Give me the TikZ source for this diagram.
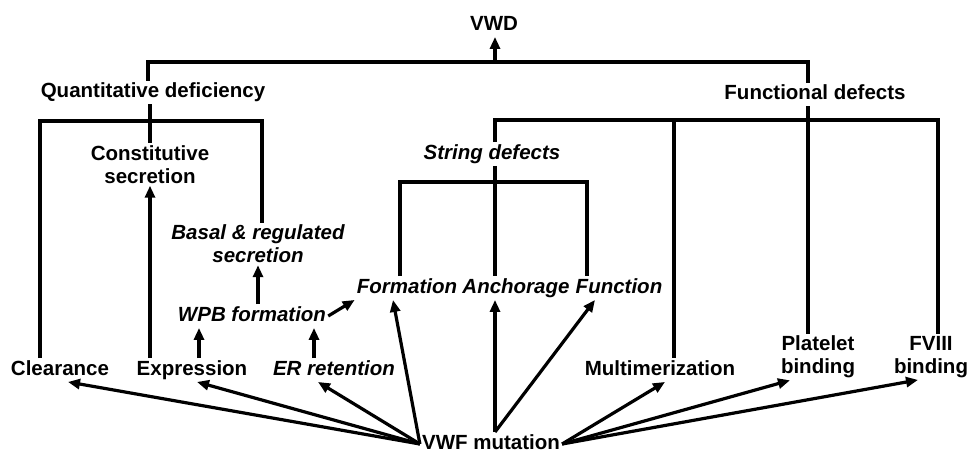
\documentclass[tikz,border=0pt]{standalone}
\usepackage{fontspec}
\setmainfont{Liberation Sans}
\usepackage{tikz}
\usetikzlibrary{arrows.meta}

\begin{document}
\begin{tikzpicture}[
  x=1pt, y=-1pt,
  font=\fontsize{20.5}{23}\selectfont\bfseries,
  lbl/.style={align=center, inner sep=2pt},
  one/.style={lbl, text height=15pt, text depth=4.5pt},
  itl/.style={font=\fontsize{20.5}{23}\selectfont\bfseries\itshape},
  ln/.style={line width=3.2pt},
  ar/.style={ln, -{Triangle[length=12pt, width=10pt]}}
]
\useasboundingbox (0,0) rectangle (970,452);

\node[one] (vwd) at (494,25) {VWD};
\node[one] (quant) at (153,92.5) {Quantitative deficiency};
\node[one] (func) at (815,94.5) {Functional defects};
\node[lbl] (const) at (150,164.5) {Constitutive\\secretion};
\node[lbl, itl] (basal) at (258,244) {Basal \& regulated\\secretion};
\node[one, itl] (wpb) at (252,316) {WPB formation};
\node[one] (clear) at (60,370) {Clearance};
\node[one] (expr) at (192,370) {Expression};
\node[one, itl] (er) at (334,370) {ER retention};
\node[one, itl] (formation) at (407,288) {Formation};
\node[one, itl] (anch) at (516,288) {Anchorage};
\node[one, itl] (fun) at (619,288) {Function};
\node[one, itl] (string) at (492,154) {String defects};
\node[one] (multi) at (660,370) {Multimerization};
\node[lbl] (plate) at (818,357) {Platelet\\binding};
\node[lbl] (fviii) at (931,357) {FVIII\\binding};
\node[one] (mut) at (491,444) {VWF mutation};

\coordinate (top) at (495,62);
\coordinate (qbar) at (150,121);
\coordinate (fbar) at (495,120);
\coordinate (sbar) at (495,182);

% VWD
\draw[ln] ([xshift=-5pt]quant.north) |- (top) -| ([xshift=-7pt]func.north);
\draw[ar] (top) -- (vwd.south -| top);

% quantitative deficiency
\draw[ln] (quant.south -| qbar) -- (const.north);
\draw[ln] ([xshift=-20pt]clear.north) |- (qbar) -| ([xshift=4pt]basal.north);
\draw[ar] (expr.north -| const) -- (const.south);
\draw[ar] ([xshift=7pt]expr.north) -- ([xshift=7pt]expr.north |- wpb.south);
\draw[ar] ([xshift=-20pt]er.north) -- ([xshift=-20pt]er.north |- wpb.south);
\draw[ar] (wpb.north -| basal) -- (basal.south);
\draw[ar] (wpb.east) -- (formation.south west);

% functional defects
\draw[ln] (string.north -| fbar) -- (fbar) -| ([xshift=7pt]fviii.north);
\draw[ln] ([xshift=14pt]multi.north |- fbar) -- ([xshift=14pt]multi.north);
\draw[ln] ([xshift=-7pt]func.south) -- ([xshift=-7pt]func.south |- plate.north);
\draw[ln] ([xshift=-7pt]formation.north) |- (sbar) -| ([xshift=-32pt]fun.north);
\draw[ln] (string.south -| sbar) -- (anch.north -| sbar);

% VWF mutation
\draw[ar] (mut.west) -- ([xshift=8pt]clear.south);
\draw[ar] (mut.west) -- ([xshift=5pt]expr.south);
\draw[ar] (mut.west) -- ([xshift=-16pt]er.south);
\draw[ar] (mut.west) -- ([xshift=-14pt]formation.south);
\draw[ar] (mut.north -| sbar) -- (anch.south -| sbar);
\draw[ar] (mut.north -| sbar) -- ([xshift=-24pt]fun.south);
\draw[ar] (mut.east) -- ([xshift=5pt]multi.south);
\draw[ar] (mut.east) -- ([xshift=-28pt]plate.south);
\draw[ar] (mut.east) -- ([xshift=-13pt]fviii.south);
\end{tikzpicture}
\end{document}
